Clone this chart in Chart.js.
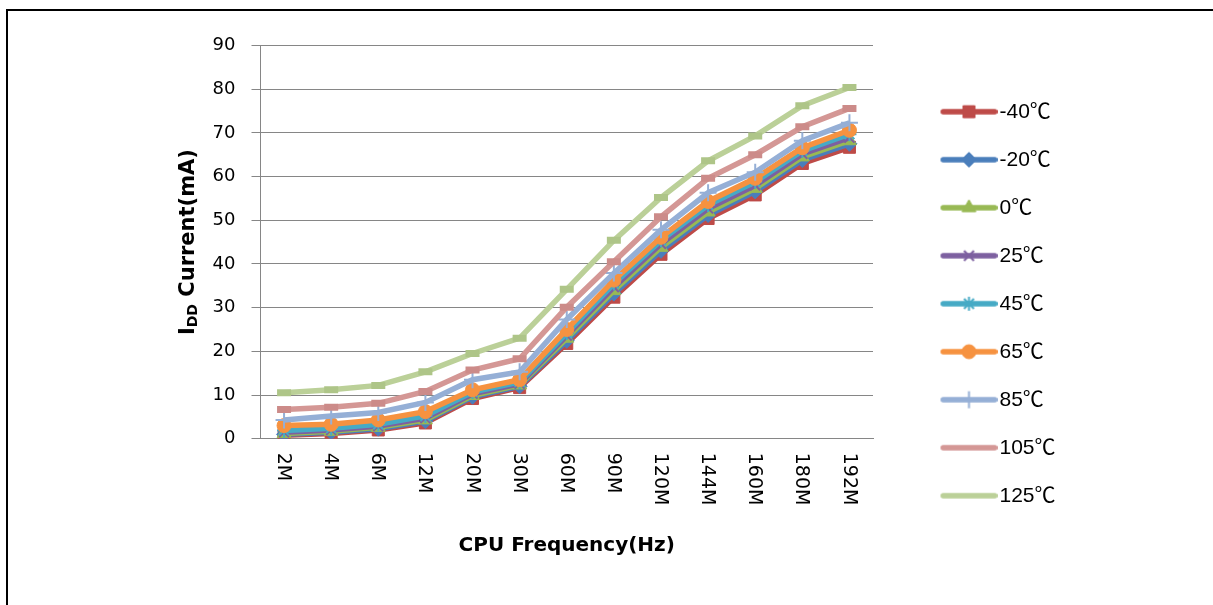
<!DOCTYPE html>
<html><head><meta charset="utf-8">
<script src="https://cdn.jsdelivr.net/npm/chart.js@4.4.1/dist/chart.umd.min.js"></script>
<style>
html,body{margin:0;padding:0;background:#fff;overflow:hidden}
#wrap{position:relative;width:1213px;height:605px}
</style></head><body>
<div id="wrap"><canvas id="c" width="1213" height="605"></canvas></div>
<script>
// ---- data ----
const categories = ['2M','4M','6M','12M','20M','30M','60M','90M','120M','144M','160M','180M','192M'];
const seriesLabels = ['-40℃','-20℃','0℃','25℃','45℃','65℃','85℃','105℃','125℃'];
const tM40 = [0.8, 1.2, 2.0, 3.6, 9.2, 11.7, 21.8, 32.4, 42.2, 50.4, 55.8, 63.0, 66.7];
const tM20 = [1.0, 1.5, 2.3, 4.0, 9.6, 12.0, 22.4, 33.2, 43.0, 51.2, 56.6, 63.8, 67.5];
const t0   = [1.2, 1.7, 2.6, 4.3, 9.9, 12.3, 23.0, 33.9, 43.8, 51.9, 57.3, 64.5, 68.2];
const t25  = [1.5, 2.0, 2.9, 4.7, 10.3, 12.6, 23.6, 34.7, 44.6, 52.7, 58.0, 65.2, 68.9];
const t45  = [1.9, 2.4, 3.3, 5.2, 10.7, 13.0, 24.2, 35.5, 45.4, 53.5, 58.8, 65.9, 69.7];
const t65  = [3.0, 3.3, 4.3, 6.2, 11.2, 13.5, 25.0, 36.3, 46.1, 54.3, 59.6, 66.6, 70.6];
const t85  = [4.3, 5.2, 6.0, 8.3, 13.5, 15.3, 27.3, 37.9, 47.8, 56.3, 61.0, 68.2, 72.3];
const t105 = [6.7, 7.2, 8.1, 10.8, 15.7, 18.3, 30.1, 40.5, 50.8, 59.6, 65.0, 71.4, 75.6];
const t125 = [10.5, 11.2, 12.2, 15.3, 19.5, 23.0, 34.2, 45.4, 55.2, 63.6, 69.3, 76.2, 80.4];
const yMin = 0, yMax = 90, yStep = 10;
const xTitle = 'CPU Frequency(Hz)';
const yTitleMain = 'I', yTitleSub = 'DD', yTitleRest = ' Current(mA)';

// ---- styles ----
const FONT = "'DejaVu Sans', sans-serif";
const LEG_FONT = "'Liberation Sans', 'Noto Sans CJK SC', 'DejaVu Sans', sans-serif";
const styles = [
  {c:'#BE4B48', p:'rect',     r:8.5, bw:1},
  {c:'#4A7EBB', p:'rectRot',  r:7.5, bw:1},
  {c:'#98B954', p:'triangle', r:8,   bw:1},
  {c:'#7D60A0', p:'crossRot', r:7,   bw:2},
  {c:'#46AAC5', p:'star',     r:7,   bw:2},
  {c:'#F69240', p:'circle',   r:7,   bw:1},
  {c:'#95AFD6', p:'cross',    r:8.5, bw:2},
  {c:'#D49795', p:'line',     r:7,   bw:7, pc:'#CC8B89', noLegendMarker:true},
  {c:'#BBD098', p:'line',     r:7,   bw:7, pc:'#AEC588', noLegendMarker:true}
];
const seriesValues = [tM40, tM20, t0, t25, t45, t65, t85, t105, t125];

const PLOT = {left:260.5, right:873, top:45.5, bottom:438.7};
const LEG = {font:21, gap:27, boxW:89, lineLen:57, textGap:2};

function legendSample(st){
  const W = LEG.boxW + LEG.font - 2*LEG.textGap, H = 26;
  const cv = document.createElement('canvas'); cv.width = W; cv.height = H;
  const ctx = cv.getContext('2d');
  ctx.strokeStyle = st.c; ctx.lineWidth = 5.5; ctx.lineCap = 'round';
  ctx.beginPath(); ctx.moveTo(W - LEG.lineLen + 2.75, H/2); ctx.lineTo(W - 2.75, H/2); ctx.stroke();
  if (!st.noLegendMarker && Chart.helpers && Chart.helpers.drawPoint){
    ctx.fillStyle = st.pc || st.c; ctx.strokeStyle = st.pc || st.c; ctx.lineWidth = st.bw; ctx.lineCap='butt';
    Chart.helpers.drawPoint(ctx, {pointStyle: st.p, radius: st.r, borderWidth: st.bw, rotation: 0}, W - LEG.lineLen/2, H/2);
  }
  return cv;
}

function makeChart(){
  const samples = styles.map(legendSample);
  const datasets = seriesValues.map((vals, i) => ({
    label: seriesLabels[i], data: vals,
    borderColor: styles[i].c, backgroundColor: styles[i].c,
    borderWidth: 5.5, tension: 0, fill: false,
    pointStyle: styles[i].p, pointRadius: styles[i].r, pointHoverRadius: styles[i].r,
    pointBorderWidth: styles[i].bw,
    pointBackgroundColor: styles[i].pc || styles[i].c, pointBorderColor: styles[i].pc || styles[i].c,
    order: -i
  }));

  const decor = {
    id: 'decor',
    beforeDraw(chart){
      const ctx = chart.ctx;
      ctx.save();
      ctx.fillStyle = '#fff'; ctx.fillRect(0,0,chart.width,chart.height);
      ctx.strokeStyle = '#000'; ctx.lineWidth = 2;
      ctx.beginPath(); ctx.moveTo(7, chart.height + 2); ctx.lineTo(7, 10); ctx.lineTo(chart.width + 2, 10); ctx.stroke();
      ctx.restore();
    },
    afterDraw(chart){
      const ctx = chart.ctx, xs = chart.scales.x, ca = chart.chartArea;
      ctx.save();
      // rotated category labels (reading top to bottom)
      ctx.fillStyle = '#000';
      ctx.font = "19px " + FONT;
      ctx.textAlign = 'left'; ctx.textBaseline = 'middle';
      categories.forEach((lab, i) => {
        const x = xs.getPixelForValue(i);
        ctx.save(); ctx.translate(x - 1, ca.bottom + 14); ctx.rotate(Math.PI/2);
        ctx.fillText(lab, 0, 0); ctx.restore();
      });
      // y title with subscript
      const big = "bold 21px " + FONT, small = "bold 14px " + FONT;
      ctx.font = big; const w1 = ctx.measureText(yTitleMain).width, w3 = ctx.measureText(yTitleRest).width;
      ctx.font = small; const w2 = ctx.measureText(yTitleSub).width;
      const total = w1 + w2 + w3;
      const cy = (ca.top + ca.bottom)/2;
      ctx.translate(187, cy); ctx.rotate(-Math.PI/2);
      ctx.textBaseline = 'alphabetic';
      let px = -total/2;
      ctx.font = big; ctx.fillText(yTitleMain, px, 7); px += w1;
      ctx.font = small; ctx.fillText(yTitleSub, px, 10); px += w2;
      ctx.font = big; ctx.fillText(yTitleRest, px, 7);
      ctx.restore();
    }
  };

  const chart = new Chart(document.getElementById('c'), {
    type: 'line',
    data: {labels: categories, datasets},
    plugins: [decor],
    options: {
      responsive: false, animation: false, devicePixelRatio: 1, events: [],
      layout: {padding: {left: 0, right: 116, top: PLOT.top, bottom: 43}},
      plugins: {
        tooltip: {enabled: false},
        title: {display: false},
        legend: {
          position: 'right', align: 'center',
          labels: {
            usePointStyle: true, pointStyleWidth: LEG.boxW, padding: LEG.gap,
            color: '#000', font: {family: LEG_FONT, size: LEG.font},
            generateLabels: (ch) => ch.data.datasets.map((ds, i) => ({
              text: ds.label, fillStyle: ds.borderColor, strokeStyle: ds.borderColor,
              lineWidth: 0, pointStyle: samples[i], hidden: false, datasetIndex: i, fontColor: '#000'
            }))
          }
        }
      },
      scales: {
        x: {
          type: 'category', offset: true,
          grid: {display: false},
          border: {display: true, color: '#868686', width: 1},
          ticks: {display: false},
          title: {display: true, text: xTitle, color: '#000', font: {family: FONT, size: 20, weight: 'bold'}, padding: {top: 0, bottom: 4}},
          afterFit: (s) => { s.height = 605 - 43 - PLOT.bottom; }
        },
        y: {
          min: yMin, max: yMax,
          ticks: {stepSize: yStep, color: '#000', font: {family: FONT, size: 18}, padding: 16},
          grid: {color: '#868686', lineWidth: 1, tickLength: 9},
          border: {display: true, color: '#868686', width: 1},
          afterFit: (s) => { s.width = PLOT.left; }
        }
      }
    }
  });
  const d = chart.chartArea.right - PLOT.right;
  if (Math.abs(d) > 0.1){ chart.options.layout.padding.right += d; chart.update(); }
}
makeChart();
</script>
</body></html>
